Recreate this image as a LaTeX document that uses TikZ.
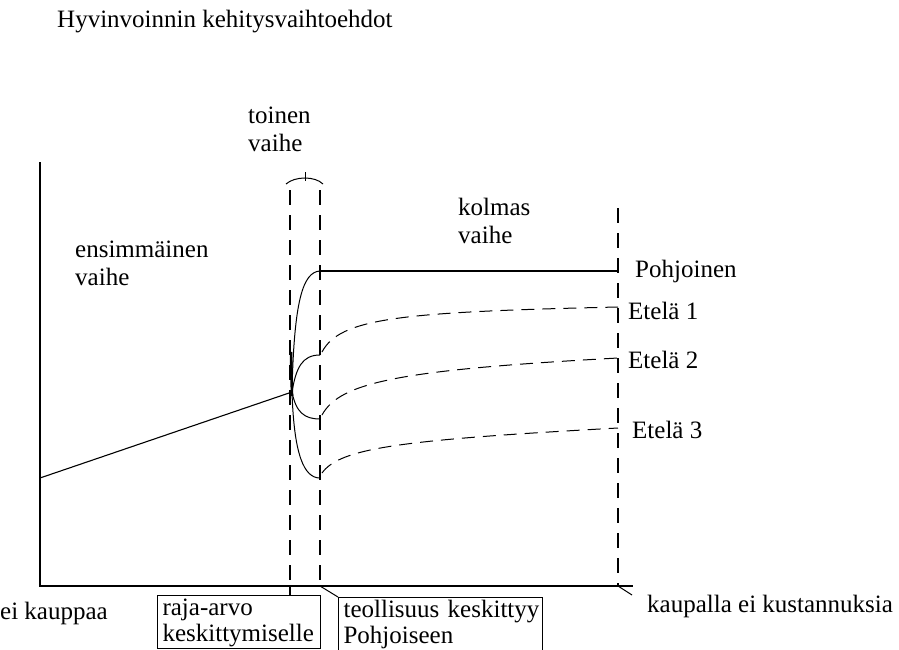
\documentclass[tikz,border=0pt]{standalone}
\usepackage{fontspec}
\setmainfont{Liberation Serif}
\usetikzlibrary{calc}

\tikzset{
  lbl/.style={font=\fontsize{25}{28}\selectfont, inner sep=0pt, align=left},
  boxtext/.style={font=\fontsize{25}{26}\selectfont, inner sep=0pt, align=left},
  vdash/.style={line width=1.1pt, dash pattern=on 15pt off 10pt},
  edash/.style={line width=1pt, dash pattern=on 13pt off 8pt},
  solid line/.style={line width=1.1pt},
  box/.style={draw, line width=1.1pt, boxtext, anchor=north west, inner xsep=5pt, inner ysep=3pt, text depth=30pt},
}

\begin{document}
\begin{tikzpicture}[x=1pt, y=-1pt]
			%%%%% START %%%%%
			\fill[white] (0, 0) rectangle (899, 650);
			\clip (0, 0) rectangle (899, 650);
			
			\node[lbl, anchor=west] (title) at (57, 22) {Hyvinvoinnin kehitysvaihtoehdot};
			
			% axes
			\coordinate (origin) at (40, 586);
			\coordinate (ytop) at (40, 162);
			\coordinate (xend) at (633, 586);
			\draw[solid line] (ytop) -- (origin) -- (xend);
			
			% phase borders
			\coordinate (raja) at (290, 586);
			\coordinate (keskit) at (320, 586);
			\coordinate (kaupalla) at (618, 586);
			\draw[vdash] (290, 190) -- (raja);
			\draw[vdash] (320, 190) -- (keskit);
			\draw[vdash] (618, 208) -- (kaupalla);
			
			% brace over second phase
			\draw[line width=1pt] (286, 184) .. controls (295, 176) and (315, 176) .. (323, 184);
			\draw[line width=1pt] (305, 172) -- (305, 181);
			
			\node[lbl, anchor=west] (ensimm) at (75, 263) {ensimmäinen\\vaihe};
			\node[lbl, anchor=west] (toinen) at (248, 129) {toinen\\vaihe};
			\node[lbl, anchor=west] (kolmas) at (458, 221) {kolmas\\vaihe};
			
			% first phase
			\coordinate (start) at (40, 478);
			\coordinate (split) at (292, 392);
			\draw[solid line] (start) -- (split);
			\draw[line width=2.6pt] (291, 352) -- (292, 396);
			
			% second phase
			\coordinate (pohj0) at (320, 271);
			\coordinate (et10) at (320, 355);
			\coordinate (et20) at (320, 419);
			\coordinate (et30) at (320, 478);
			\draw[line width=1pt] (split) .. controls (294, 300) and (303, 272) .. (pohj0);
			\draw[line width=1pt] (split) .. controls (296, 368) and (302, 355) .. (et10);
			\draw[line width=1pt] (split) .. controls (296, 412) and (304, 419) .. (et20);
			\draw[line width=1pt] (split) .. controls (294, 455) and (304, 478) .. (et30);
			
			% third phase
			\coordinate (pohj1) at (618, 271);
			\coordinate (et11) at (618, 307);
			\coordinate (et21) at (618, 358);
			\coordinate (et31) at (618, 428);
			\draw[solid line] (pohj0) -- (pohj1);
			\draw[edash] (322, 352) .. controls (340, 318) and (400, 312) .. (et11);
			\draw[edash] (322, 415) .. controls (340, 382) and (400, 370) .. (et21);
			\draw[edash] (322, 473) .. controls (340, 448) and (400, 440) .. (et31);
			
			\node[lbl, anchor=west] (pohjoinen) at (635, 271) {Pohjoinen};
			\node[lbl, anchor=west] (etela1) at (628, 311) {Etelä 1};
			\node[lbl, anchor=west] (etela2) at (628, 360) {Etelä 2};
			\node[lbl, anchor=west] (etela3) at (632, 430) {Etelä 3};
			
			% bottom labels
			\node[lbl, anchor=west] (eikauppaa) at (0, 613) {ei kauppaa};
			\node[box, text width=153pt] (rajabox) at (157, 595) {\mbox{raja-arvo}\\\mbox{keskittymiselle}};
			\node[box, text width=194pt] (teolbox) at (338, 597) {\mbox{teollisuus keskittyy}\\\mbox{Pohjoiseen}};
			\node[lbl, anchor=west] (kustannus) at (647, 606) {kaupalla ei kustannuksia};
			
			\draw[solid line] (raja) -- (rajabox.north -| raja);
			\draw[line width=1pt] (keskit) -- (teolbox.north west);
			\draw[line width=1pt] (kaupalla) -- ++(14, 9);
			
			%%%%% END %%%%%
\end{tikzpicture}
\end{document}
